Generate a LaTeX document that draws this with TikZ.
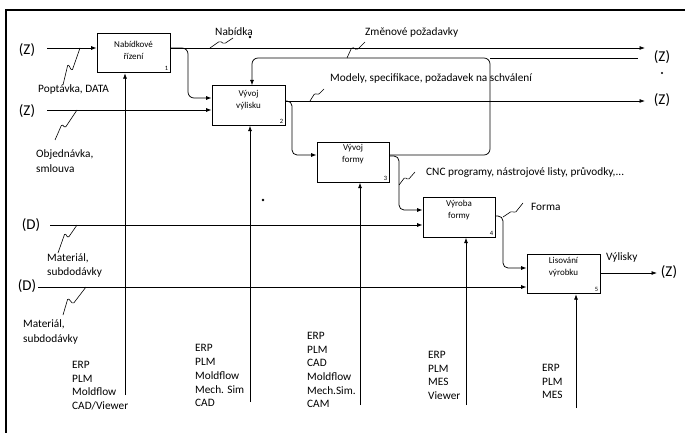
\documentclass[tikz,border=0pt]{standalone}
\usepackage{fontspec}
\setmainfont{Carlito}
\usetikzlibrary{arrows.meta,calc}
\tikzset{
  proc/.style={draw, line width=0.8pt, minimum width=73pt, minimum height=39.5pt, inner sep=0pt},
  boxtxt/.style={font=\fontsize{9}{11.5}\selectfont, align=center, inner sep=0pt},
  num/.style={font=\fontsize{6.5}{7}\selectfont, inner sep=2pt, anchor=south east},
  lbl/.style={font=\fontsize{11.3}{14.5}\selectfont, align=left, inner sep=0pt, anchor=west},
  mech/.style={font=\fontsize{11.3}{13.7}\selectfont, align=left, inner sep=0pt, anchor=north west},
  io/.style={font=\fontsize{15}{16}\selectfont, inner sep=0pt},
  arr/.style={-{Latex[length=5.5pt,width=4pt]}},
  ln/.style={line width=0.75pt},
  leader/.style={line width=0.6pt, rounded corners=1.5pt},
}
\begin{document}
\begin{tikzpicture}[x=1pt,y=-1pt]
\useasboundingbox (0,0) rectangle (685,433);
% frame
\draw[line width=1.1pt] (6,433) -- (6,10) -- (685,10);

% process boxes
\node[proc] (b1) at (133.5,53) {};
\node[proc] (b2) at (248.5,105.5) {};
\node[proc, minimum width=72pt] (b3) at (353,162.5) {};
\node[proc, minimum width=72pt] (b4) at (459,217.5) {};
\node[proc] (b5) at (563.5,274) {};

\node[boxtxt] (t1) at (133.5,50.5) {Nabídkové\\řízení};
\node[boxtxt] (t2) at (248.5,100) {Vývoj\\výlisku};
\node[boxtxt] (t3) at (353,154) {Vývoj\\formy};
\node[boxtxt] (t4) at (459,210) {Výroba\\formy};
\node[boxtxt] (t5) at (563.5,267) {Lisování\\výrobku};

\node[num] (n1) at (b1.south east) {1};
\node[num] (n2) at (b2.south east) {2};
\node[num] (n3) at (b3.south east) {3};
\node[num] (n4) at (b4.south east) {4};
\node[num] (n5) at (b5.south east) {5};

% external inputs / outputs
\node[io] (z1) at (27,50) {(Z)};
\node[io] (z2) at (27,111) {(Z)};
\node[io] (d1) at (31,225) {(D)};
\node[io] (d2) at (27,286) {(D)};
\node[io] (z3) at (662,57) {(Z)};
\node[io] (z4) at (662,100) {(Z)};
\node[io] (z5) at (669,272) {(Z)};

\coordinate (z1s) at (47,48);
\coordinate (z2s) at (47,110);
\coordinate (d1s) at (50,225);
\coordinate (d2s) at (38,287);
\coordinate (z3e) at (645,48);
\coordinate (z4e) at (645,101);
\coordinate (z5e) at (657,273);
\coordinate (fb) at (490,58);
\coordinate (fbe) at (638,58);

% inputs
\draw[ln,arr] (z1s) -- (b1.west |- z1s);
\draw[ln,arr] (z2s) -- (b2.west |- z2s);
\draw[ln,arr] (d1s) -- (b4.west |- d1s);
\draw[ln,arr] (d2s) -- (b5.west |- d2s);

% outputs of box 1
\draw[ln,arr] (b1.east |- z3e) -- (z3e);
\draw[ln,arr,rounded corners=6pt] (b1.east |- z3e) -| (188,98) -- (b2.west |- 0,98);

% outputs of box 2
\draw[ln,arr] (b2.east |- z4e) -- (z4e);
\draw[ln,arr,rounded corners=5pt] (b2.east |- z4e) -| (292,155) -- (b3.west |- 0,155);

% outputs of box 3
\draw[ln,arr,rounded corners=6pt] (b3.east |- 0,155) -| (fb) -| ([xshift=3.5pt]b2.north);
\draw[ln] (fb) -- (fbe);
\draw[ln,arr,rounded corners=5pt] (b3.east |- 0,156) -| (399,210) -- (b4.west |- 0,210);

% output of box 4
\draw[ln,arr,rounded corners=5pt] (b4.east |- 0,216) -| (503,268) -- (b5.west |- 0,268);

% output of box 5
\draw[ln,arr] (b5.east |- z5e) -- (z5e);

% mechanisms
\coordinate (m1) at (125,395);
\coordinate (m2) at (250,402);
\coordinate (m3) at (360,405);
\coordinate (m4) at (466,405);
\coordinate (m5) at (576,408);
\draw[ln,arr] (m1) -- (b1.south -| m1);
\draw[ln,arr] (m2) -- (b2.south -| m2);
\draw[ln,arr] (m3) -- (b3.south -| m3);
\draw[ln,arr] (m4) -- (b4.south -| m4);
\draw[ln,arr] (m5) -- (b5.south -| m5);

% labels
\node[lbl] (lPop) at (38,89) {Poptávka, DATA};
\node[lbl] (lObj) at (36,161) {Objednávka,\\smlouva};
\node[lbl] (lMat1) at (47,265.5) {Materiál,\\subdodávky};
\node[lbl] (lMat2) at (23,332) {Materiál,\\subdodávky};
\node[lbl] (lNab) at (215,32) {Nabídka};
\node[lbl] (lZme) at (365,32) {Změnové požadavky};
\node[lbl] (lMod) at (330,78) {Modely, specifikace, požadavek na schválení};
\node[lbl] (lCNC) at (426,172) {CNC programy, nástrojové listy, průvodky,...};
\node[lbl] (lFor) at (531,207) {Forma};
\node[lbl] (lVyl) at (606,257) {Výlisky};

\node[mech] (k1) at (72,361) {ERP\\PLM\\Moldflow\\CAD/Viewer};
\node[mech] (k2) at (195,344.5) {ERP\\PLM\\Moldflow\\Mech. Sim\\CAD};
\node[mech] (k3) at (307,332) {ERP\\PLM\\CAD\\Moldflow\\Mech.Sim.\\CAM};
\node[mech] (k4) at (428,351) {ERP\\PLM\\MES\\Viewer};
\node[mech] (k5) at (542,364) {ERP\\PLM\\MES};

% leader squiggles
\draw[leader] (63,85) -- (68,64) -- (72,71) -- (80,48);
\draw[leader] (55,140) -- (62,124) -- (65,128) -- (77,110);
\draw[leader] (58,253) -- (65,233) -- (68,238) -- (77,225);
\draw[leader] (63,315) -- (68,298) -- (73,304) -- (86,287);
\draw[leader] (210,48) -- (220,41) -- (224,44) -- (233,38);
\draw[leader] (347,58) -- (352,47) -- (357,50) -- (365,42);
\draw[leader] (310,101) -- (315,93) -- (318,95) -- (324,89);
\draw[leader] (399,185) -- (405,177) -- (408,180) -- (415,172);
\draw[leader] (503,217) -- (512,211) -- (515,213) -- (523,203);

% stray dots
\fill (250,37) circle (1.3pt);
\fill (263,200) circle (1.4pt);
\fill (662,73) circle (1.2pt);
\end{tikzpicture}
\end{document}
